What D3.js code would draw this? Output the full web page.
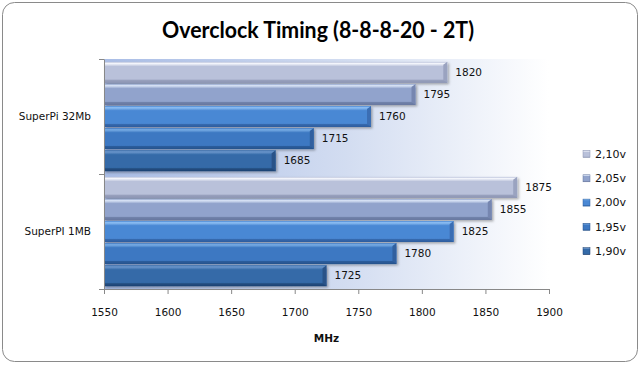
<!DOCTYPE html>
<html><head><meta charset="utf-8">
<script src="https://cdn.jsdelivr.net/npm/d3@7/dist/d3.min.js"></script>
<style>html,body{margin:0;padding:0;background:#fff;}svg{display:block;}</style>
</head><body>
<svg id="chart" width="640" height="366"></svg>
<script>
const title = "Overclock Timing (8-8-8-20 - 2T)";
const categories = ["SuperPi 32Mb", "SuperPI 1MB"];
const series = ["2,10v", "2,05v", "2,00v", "1,95v", "1,90v"];
const values = {
  "2,10v": [1820, 1875],
  "2,05v": [1795, 1855],
  "2,00v": [1760, 1825],
  "1,95v": [1715, 1780],
  "1,90v": [1685, 1725]
};
const xTicks = [1550, 1600, 1650, 1700, 1750, 1800, 1850, 1900];
const xLabel = "MHz";
const colors = {
  "2,10v": {hi:"#f4f6fc", base:"#b9c1da", lo:"#8c95b3", end:"#9aa3c0"},
  "2,05v": {hi:"#d9e4f6", base:"#91a3cc", lo:"#66779f", end:"#7686b0"},
  "2,00v": {hi:"#8fc0f4", base:"#4a88d4", lo:"#2d5e9e", end:"#3a6eb4"},
  "1,95v": {hi:"#7aaee6", base:"#3d78c2", lo:"#26528c", end:"#30609f"},
  "1,90v": {hi:"#6d97cc", base:"#346aa8", lo:"#1e4273", end:"#2a5388"}
};

const svg = d3.select("#chart");
const defs = svg.append("defs");

svg.append("rect").attr("x", 2.5).attr("y", 2.5).attr("width", 635).attr("height", 359)
  .attr("rx", 12).attr("ry", 12).attr("fill", "#fff").attr("stroke", "#8a8a8a").attr("stroke-width", 1);

svg.append("text").attr("x", 318).attr("y", 38).attr("text-anchor", "middle")
  .attr("font-family", "Lato, 'Open Sans', sans-serif").attr("font-weight", "bold")
  .attr("font-size", 22).attr("fill", "#000")
  .attr("textLength", 312).attr("lengthAdjust", "spacingAndGlyphs")
  .text(title);

const plot = {left: 104, right: 549, top: 59, bottom: 289};

const x = d3.scaleLinear().domain([1550, 1900]).range([plot.left, plot.right]);
const y0 = d3.scaleBand().domain(categories).range([plot.top, plot.bottom]).padding(0);
const y1 = d3.scaleBand().domain(series).range([0, y0.bandwidth()]).paddingInner(0.05).paddingOuter(0.13);

const bg = defs.append("linearGradient").attr("id", "bg").attr("x1", 0).attr("x2", 1).attr("y1", 0).attr("y2", 0);
bg.append("stop").attr("offset", "0%").attr("stop-color", "#a9bde6");
bg.append("stop").attr("offset", "55%").attr("stop-color", "#d3ddf1");
bg.append("stop").attr("offset", "100%").attr("stop-color", "#ffffff");
svg.append("rect").attr("x", plot.left).attr("y", plot.top)
  .attr("width", plot.right - plot.left).attr("height", plot.bottom - plot.top).attr("fill", "url(#bg)");

series.forEach((s, i) => {
  const c = colors[s];
  const g = defs.append("linearGradient").attr("id", "g" + i).attr("x1", 0).attr("x2", 0).attr("y1", 0).attr("y2", 1);
  g.append("stop").attr("offset", "0%").attr("stop-color", c.base);
  g.append("stop").attr("offset", "8%").attr("stop-color", c.hi);
  g.append("stop").attr("offset", "22%").attr("stop-color", c.base);
  g.append("stop").attr("offset", "82%").attr("stop-color", c.base);
  g.append("stop").attr("offset", "100%").attr("stop-color", c.lo);
});
const sh = defs.append("filter").attr("id", "sh").attr("x", "-5%").attr("y", "-20%").attr("width", "115%").attr("height", "150%");
sh.append("feDropShadow").attr("dx", 1.5).attr("dy", 1.5).attr("stdDeviation", 1).attr("flood-color", "#000").attr("flood-opacity", 0.3);

const groups = svg.append("g").selectAll("g").data(categories).join("g")
  .attr("transform", d => `translate(0,${y0(d)})`);

groups.each(function(cat, ci) {
  const g = d3.select(this);
  series.forEach((s, si) => {
    const v = values[s][ci];
    const yy = y1(s), h = y1.bandwidth();
    const x0 = x(1550), x1 = x(v);
    const bar = g.append("g").attr("filter", "url(#sh)");
    bar.append("rect").attr("x", x0).attr("y", yy).attr("width", x1 - x0).attr("height", h)
      .attr("fill", `url(#g${si})`);
    bar.append("path")
      .attr("d", `M${x1 - 4},${yy + 3}L${x1},${yy}L${x1},${yy + h}L${x1 - 4},${yy + h - 3}Z`)
      .attr("fill", colors[s].end);
    bar.append("path")
      .attr("d", `M${x1 - 4},${yy + h - 3}L${x1},${yy + h}L${x0},${yy + h}L${x0},${yy + h - 3}Z`)
      .attr("fill", colors[s].lo).attr("opacity", 0.6);
    g.append("text").attr("x", x1 + 8).attr("y", yy + h / 2).attr("dy", "0.35em")
      .attr("font-family", "'DejaVu Sans', sans-serif").attr("font-size", 10.5).attr("fill", "#111")
      .text(v);
  });
});

const xAxis = d3.axisBottom(x).tickValues(xTicks).tickFormat(d3.format("d")).tickSize(5).tickPadding(15);
const xg = svg.append("g").attr("transform", `translate(0,${plot.bottom})`).call(xAxis);
xg.select(".domain").attr("stroke", "#888");
xg.selectAll(".tick line").attr("stroke", "#888");
xg.selectAll(".tick text").attr("font-family", "'DejaVu Sans', sans-serif").attr("font-size", 10.5).attr("fill", "#111");

const yAxis = d3.axisLeft(y0).tickSize(0).tickPadding(13);
const yg = svg.append("g").attr("transform", `translate(${plot.left},0)`).call(yAxis);
yg.select(".domain").attr("stroke", "#888");
yg.selectAll(".tick text").attr("font-family", "'DejaVu Sans', sans-serif").attr("font-size", 10.5).attr("fill", "#111");
const sepY = [plot.top, plot.top + y0.bandwidth(), plot.bottom];
svg.append("g").selectAll("line").data(sepY).join("line")
  .attr("x1", plot.left - 5).attr("x2", plot.left).attr("y1", d => d + 0.5).attr("y2", d => d + 0.5)
  .attr("stroke", "#888");

svg.append("text").attr("x", (plot.left + plot.right) / 2).attr("y", 342).attr("text-anchor", "middle")
  .attr("font-family", "'DejaVu Sans', sans-serif").attr("font-weight", "bold").attr("font-size", 10.5)
  .attr("fill", "#111").text(xLabel);

const leg = svg.append("g").selectAll("g").data(series).join("g")
  .attr("transform", (d, i) => `translate(583,${154 + i * 24.3})`);
leg.append("rect").attr("x", 0).attr("y", -3.5).attr("width", 7).attr("height", 7)
  .attr("fill", (d, i) => `url(#g${i})`).attr("stroke", d => colors[d].lo).attr("stroke-width", 0.5);
leg.append("text").attr("x", 12).attr("y", 0).attr("dy", "0.35em")
  .attr("font-family", "'DejaVu Sans', sans-serif").attr("font-size", 11).attr("fill", "#111")
  .text(d => d);
</script>
</body></html>
